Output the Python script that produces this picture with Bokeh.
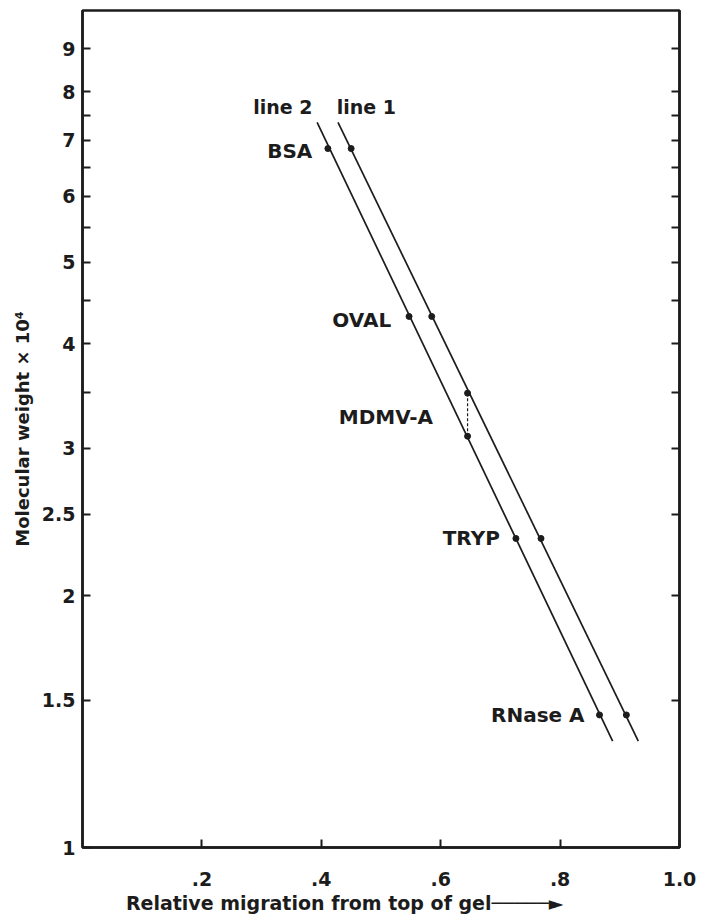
from bokeh.plotting import figure
from bokeh.models import FixedTicker, LogAxis, ColumnDataSource
from bokeh.core.properties import value
from bokeh.embed import file_html
from bokeh.resources import INLINE

# ---- data ----
proteins = ["BSA", "OVAL", "MDMV-A", "TRYP", "RNase A"]
line1_x = [0.450, 0.585, 0.645, 0.768, 0.911]
line1_mw = [6.84, 4.31, 3.49, 2.34, 1.44]
line2_x = [0.411, 0.547, 0.645, 0.726, 0.866]
line2_mw = [6.84, 4.31, 3.10, 2.34, 1.44]
line1_fit_x = [0.428, 0.931]
line1_fit_mw = [7.35, 1.34]
line2_fit_x = [0.393, 0.888]
line2_fit_mw = [7.35, 1.34]
mdmv_x = [0.645, 0.645]
mdmv_mw = [3.49, 3.10]

label_x = [0.385, 0.517, 0.587, 0.699, 0.841]
label_mw = [6.80, 4.27, 3.27, 2.34, 1.44]
line_names = ["line 2", "line 1"]
line_name_x = [0.286, 0.426]
line_name_mw = [7.66, 7.66]

y_major = [1, 1.5, 2, 2.5, 3, 4, 5, 6, 7, 8, 9]
y_minor = [3.5, 4.5, 5.5, 6.5, 7.5]
y_labels = ["1", "1.5", "2", "2.5", "3", "4", "5", "6", "7", "8", "9"]
x_major = [0.2, 0.4, 0.6, 0.8, 1.0]
x_labels = [".2", ".4", ".6", ".8", "1.0"]

INK = "#1c1c1c"
FONT = "DejaVu Sans"

p = figure(width=702, height=918, x_range=(0, 1.0), y_range=(1, 10),
           y_axis_type="log", output_backend="svg", toolbar_location=None,
           min_border_left=82, min_border_right=23, min_border_top=10,
           min_border_bottom=71)
p.grid.visible = False
p.outline_line_color = INK
p.outline_line_width = 2.5
p.background_fill_color = "white"
p.border_fill_color = "white"

# bottom axis
xa = p.xaxis[0]
xa.ticker = FixedTicker(ticks=x_major, minor_ticks=[])
xa.major_label_overrides = {v: t for v, t in zip(x_major, x_labels)}
xa.major_tick_in = 8
xa.major_tick_out = 0
xa.minor_tick_in = 0
xa.minor_tick_out = 0
xa.axis_line_color = INK
xa.axis_line_width = 2.5
xa.major_tick_line_color = INK
xa.major_tick_line_width = 2
xa.major_label_standoff = 24
xa.major_label_text_font = FONT
xa.major_label_text_font_style = "bold"
xa.major_label_text_font_size = "19px"
xa.major_label_text_color = INK
xa.axis_label = "Relative migration from top of gel" + "\u2500" * 5 + "\u25ba" + "\u00a0" * 11
xa.axis_label_standoff = 3
xa.axis_label_text_font = FONT
xa.axis_label_text_font_style = "bold"
xa.axis_label_text_font_size = "19px"
xa.axis_label_text_color = INK

# left axis
ya = p.yaxis[0]
ya.ticker = FixedTicker(ticks=y_major, minor_ticks=y_minor)
ya.major_label_overrides = {v: t for v, t in zip(y_major, y_labels)}
ya.major_tick_in = 8
ya.major_tick_out = 0
ya.minor_tick_in = 8
ya.minor_tick_out = 0
ya.axis_line_color = INK
ya.axis_line_width = 2.5
ya.major_tick_line_color = INK
ya.major_tick_line_width = 2
ya.minor_tick_line_color = INK
ya.minor_tick_line_width = 2
ya.major_label_standoff = 7
ya.major_label_text_font = FONT
ya.major_label_text_font_style = "bold"
ya.major_label_text_font_size = "19px"
ya.major_label_text_color = INK
ya.axis_label = "Molecular weight \u00d7 10\u2074"
ya.axis_label_standoff = 6
ya.axis_label_text_font = FONT
ya.axis_label_text_font_style = "bold"
ya.axis_label_text_font_size = "18px"
ya.axis_label_text_color = INK

# right axis (ticks only)
ra = LogAxis(ticker=FixedTicker(ticks=y_major, minor_ticks=y_minor))
ra.major_tick_in = 8
ra.major_tick_out = 0
ra.minor_tick_in = 8
ra.minor_tick_out = 0
ra.axis_line_color = INK
ra.axis_line_width = 2.5
ra.major_tick_line_color = INK
ra.major_tick_line_width = 2
ra.minor_tick_line_color = INK
ra.minor_tick_line_width = 2
ra.major_label_text_font_size = "0px"
ra.major_label_text_color = None
ra.major_label_standoff = 0
p.add_layout(ra, "right")

# fitted lines
p.line(line1_fit_x, line1_fit_mw, line_color=INK, line_width=1.7)
p.line(line2_fit_x, line2_fit_mw, line_color=INK, line_width=1.7)
# dashed connector for MDMV-A
p.line(mdmv_x, mdmv_mw, line_color=INK, line_width=1.2, line_dash="3 2")
# points
p.scatter(line1_x, line1_mw, size=6, fill_color=INK, line_color=INK)
p.scatter(line2_x, line2_mw, size=6, fill_color=INK, line_color=INK)

# protein labels
src = ColumnDataSource(dict(x=label_x, y=label_mw, t=proteins))
p.text(x="x", y="y", text="t", source=src, text_font=value(FONT),
       text_font_style="bold", text_font_size="20px", text_align="right",
       text_baseline="middle", text_color=INK)
src2 = ColumnDataSource(dict(x=line_name_x, y=line_name_mw, t=line_names))
p.text(x="x", y="y", text="t", source=src2, text_font=value(FONT),
       text_font_style="bold", text_font_size="19px", text_align="left",
       text_baseline="middle", text_color=INK)

open("out.html", "w").write(file_html(p, INLINE))
